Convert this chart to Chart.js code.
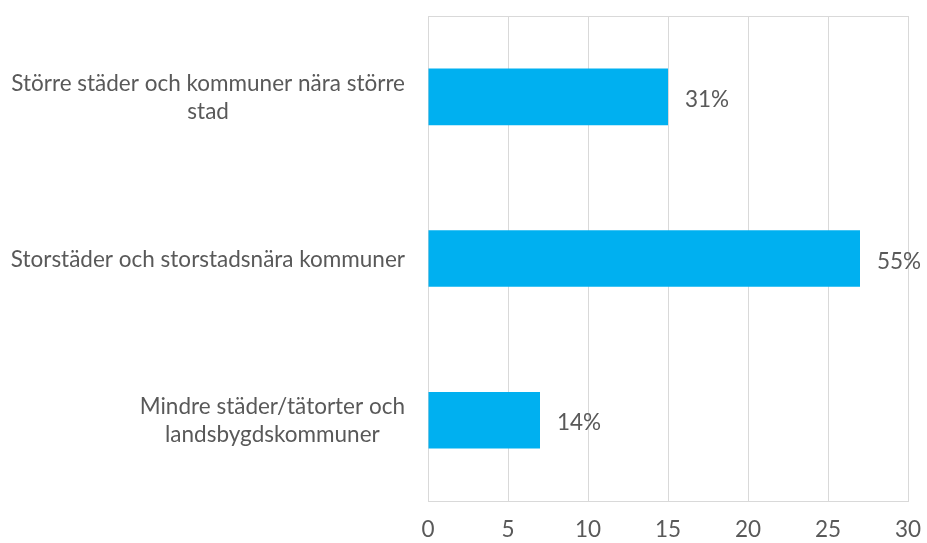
<!DOCTYPE html>
<html>
<head>
<meta charset="utf-8">
<script src="https://cdn.jsdelivr.net/npm/chart.js@4/dist/chart.umd.min.js"></script>
<style>
  html, body { margin: 0; padding: 0; background: #ffffff; }
  #wrap { width: 927px; height: 543px; position: relative; }
</style>
</head>
<body>
<div id="wrap"><canvas id="c" width="927" height="543"></canvas></div>
<script>
const categories = [
  ["Större städer och kommuner nära större", "stad"],
  ["Storstäder och storstadsnära kommuner"],
  ["Mindre städer/tätorter och", "landsbygdskommuner"]
];
const values = [15, 27, 7];
const valueLabels = ["31%", "55%", "14%"];
const xTicks = [0, 5, 10, 15, 20, 25, 30];

const FONT = "Lato, 'Open Sans', sans-serif";
const FSIZE = 22.5;
const TEXT = "#595959";
const GRID = "#d9d9d9";

const labelPlugin = {
  id: 'customLabels',
  afterDraw(chart) {
    const ctx = chart.ctx;
    const area = chart.chartArea;
    const yScale = chart.scales.y;
    ctx.save();
    // top frame line
    ctx.strokeStyle = GRID;
    ctx.lineWidth = 1;
    ctx.beginPath();
    ctx.moveTo(area.left, Math.round(area.top) + 0.5);
    ctx.lineTo(area.right, Math.round(area.top) + 0.5);
    ctx.stroke();

    ctx.font = FSIZE + "px " + FONT;
    ctx.fillStyle = TEXT;
    ctx.textBaseline = 'middle';
    const lh = 28;
    categories.forEach((lines, i) => {
      const yc = yScale.getPixelForValue(i);
      const widths = lines.map(l => ctx.measureText(l).width);
      const maxW = Math.max(...widths);
      const rightEdge = area.left - 23;
      const cx = rightEdge - maxW / 2;
      ctx.textAlign = 'center';
      const n = lines.length;
      lines.forEach((l, j) => {
        const y = yc + (j - (n - 1) / 2) * lh + 1;
        ctx.fillText(l, cx, y);
      });
    });
    const meta = chart.getDatasetMeta(0);
    ctx.textAlign = 'left';
    meta.data.forEach((bar, i) => {
      ctx.fillText(valueLabels[i], bar.x + 17, bar.y + 3);
    });
    ctx.restore();
  }
};

new Chart(document.getElementById('c'), {
  type: 'bar',
  data: {
    labels: categories.map(c => c.join(' ')),
    datasets: [{
      data: values,
      backgroundColor: '#00b0f0',
      borderWidth: 0,
      categoryPercentage: 1.0,
      barPercentage: 0.35
    }]
  },
  options: {
    indexAxis: 'y',
    responsive: false,
    animation: false,
    devicePixelRatio: 1,
    layout: { padding: { top: 16, right: 19, bottom: 0, left: 0 } },
    plugins: { legend: { display: false }, tooltip: { enabled: false } },
    scales: {
      x: {
        min: 0, max: 30,
        afterBuildTicks: s => { s.ticks = xTicks.map(v => ({ value: v })); },
        afterFit: s => { s.height = 42; s.paddingRight = 0; s.paddingLeft = 0; },
        grid: { color: GRID, lineWidth: 1, drawTicks: false },
        border: { display: true, color: GRID, width: 1 },
        ticks: { color: TEXT, font: { family: FONT, size: FSIZE }, padding: 15 }
      },
      y: {
        afterFit: s => { s.width = 428; },
        grid: { display: false },
        border: { display: true, color: GRID, width: 1 },
        ticks: { display: false }
      }
    }
  },
  plugins: [labelPlugin]
});
</script>
</body>
</html>
